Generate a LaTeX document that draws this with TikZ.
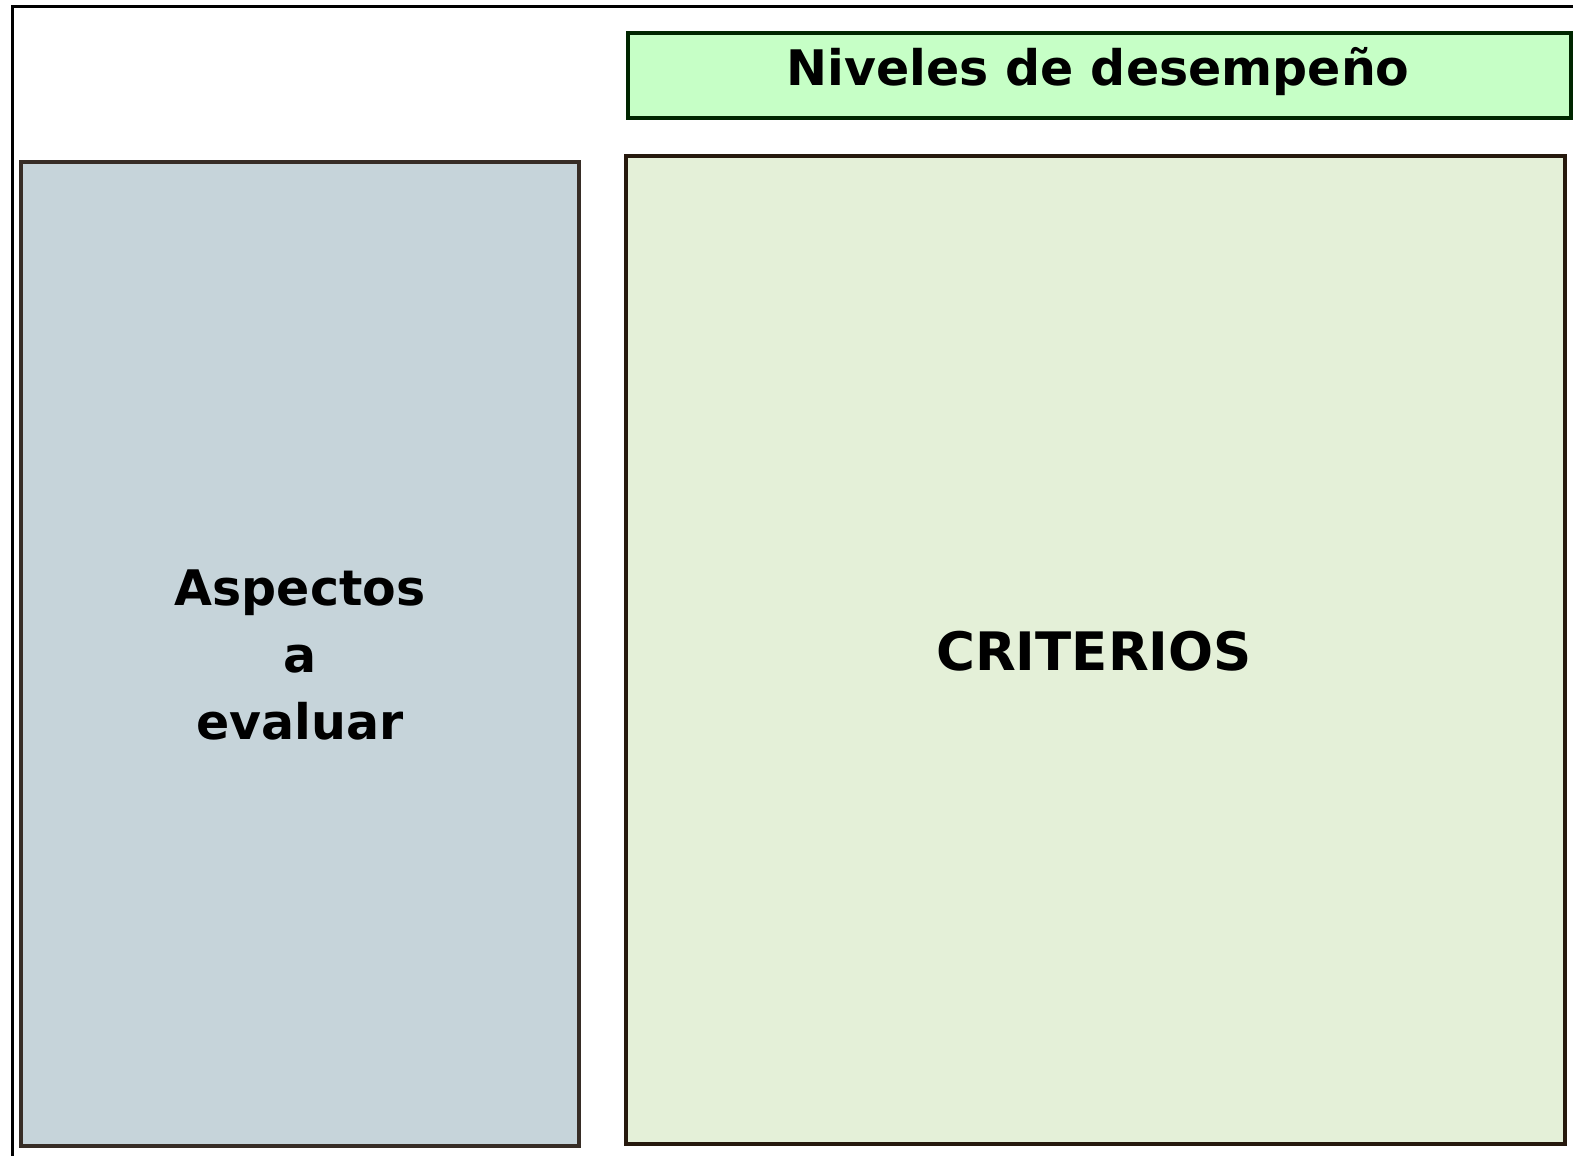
\documentclass[tikz,border=0pt]{standalone}
\usepackage{fontspec}
\setmainfont{DejaVu Sans}
\definecolor{edgec}{RGB}{55,45,38}
\definecolor{aspfill}{RGB}{198,212,218}
\definecolor{headfill}{RGB}{198,255,198}
\definecolor{critfill}{RGB}{228,240,216}
\begin{document}
\begin{tikzpicture}[x=1pt,y=-1pt,
  boxstyle/.style={draw=edgec,line width=3.5pt,inner sep=0pt,outer sep=0pt},
  bigtext/.style={font=\bfseries\fontsize{49}{67}\selectfont,align=center}]
\useasboundingbox (0,0) rectangle (1573,1156);
\fill[white] (0,0) rectangle (1573,1156);
\coordinate (ftop) at (1573,7);
\coordinate (fcorner) at (12,7);
\coordinate (fbot) at (12,1156);
\draw[line width=3pt,black] (ftop) -- (fcorner) -- (fbot);
\draw[boxstyle,fill=aspfill] (21,162) rectangle (579,1146);
\draw[boxstyle,fill=headfill,draw=black!85!green] (628,33) rectangle (1571,118);
\draw[boxstyle,fill=critfill,draw=black!80!brown] (626,156) rectangle (1565,1144);
\node[bigtext] (asp) at (300,655) {Aspectos\\a\\evaluar};
\node[bigtext] (head) at (1098,72) {Niveles de desempeño};
\node[font=\bfseries\fontsize{53}{60}\selectfont] (crit) at (1094,651) {CRITERIOS};
\end{tikzpicture}
\end{document}
